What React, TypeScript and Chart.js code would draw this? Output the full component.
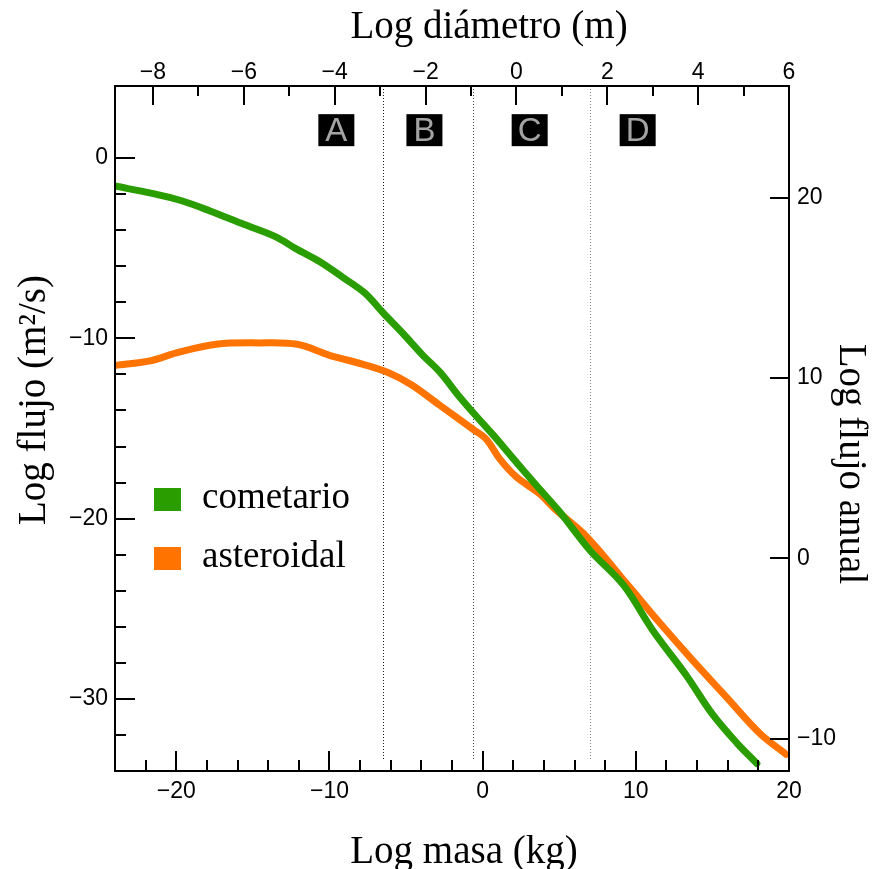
import { useEffect, useRef } from 'react';
import { Chart, registerables } from 'chart.js';

Chart.register(...registerables);

// ---- data (log10 units) ----
const MASA_COMETARIO = [-24, -21.5, -19.6, -17.8, -15.6, -13.5, -12.2, -10.6, -9.1, -7.7, -6.5, -5.2, -3.9, -2.8, -1.5, -0.6, 0.7, 2.0, 3.5, 5.0, 7.0, 9.2, 11.1, 13.3, 15.0, 16.6, 17.9];
const FLUJO_COMETARIO = [-1.55, -1.97, -2.38, -2.93, -3.67, -4.37, -5.02, -5.76, -6.63, -7.48, -8.58, -9.73, -10.94, -11.86, -13.25, -14.14, -15.37, -16.67, -18.15, -19.59, -21.75, -23.69, -26.19, -28.7, -30.85, -32.45, -33.58];

const MASA_ASTEROIDAL = [-24, -21.7, -20.0, -17.4, -14.6, -12.1, -10.0, -7.8, -6.1, -4.6, -2.8, -0.6, 0.25, 1.1, 2.2, 3.7, 4.8, 6.8, 9.4, 11.6, 13.7, 15.9, 18.1, 19.8];
const FLUJO_ASTEROIDAL = [-11.5, -11.25, -10.81, -10.33, -10.25, -10.33, -10.94, -11.44, -11.92, -12.6, -13.71, -15.06, -15.61, -16.67, -17.69, -18.61, -19.53, -21.01, -23.6, -25.82, -27.85, -29.89, -31.92, -33.07];

const SERIES_LABELS = ['cometario', 'asteroidal'];
const SERIES_COLORS = ['#2a9d00', '#ff7400'];

// axes
const MASA_RANGE = [-24, 20];
const FLUJO_RANGE = [-34, 4];
const DIAM_RANGE = [-8.836, 6];
const FLUJO_ANUAL_OFFSET = 22.2; // log(s/yr * m^2 Earth)

const MASA_TICKS = [-20, -10, 0, 10, 20];
const MASA_MINOR = [-22, -18, -16, -14, -12, -8, -6, -4, -2, 2, 4, 6, 8, 12, 14, 16, 18];
const FLUJO_TICKS = [0, -10, -20, -30];
const FLUJO_MINOR = [-2, -4, -6, -8, -12, -14, -16, -18, -22, -24, -26, -28, -32];
const ANUAL_TICKS = [-10, 0, 10, 20];
const DIAM_TICKS = [-8, -6, -4, -2, 0, 2, 4, 6];
const DIAM_MINOR = [-7, -5, -3, -1, 1, 3, 5];

// zones
const ZONE_BOUNDS = [-6.5, -0.6, 7.0];
const ZONE_BOUND_COLORS = ['#222', '#444', '#888'];
const ZONE_BOUND_BOTTOM = -33.4;
const ZONE_LABELS = ['A', 'B', 'C', 'D'];
const ZONE_LABEL_X = [-9.55, -3.8, 3.07, 10.12];
const ZONE_LABEL_Y = 1.55;

const fmt = (v: number) => (v < 0 ? '\u2212' + Math.abs(v) : String(v));
const SANS = 'Liberation Sans, Arial, sans-serif';
const SERIF = 'Liberation Serif, Times New Roman, serif';

const decor = {
  id: 'decor',
  beforeDatasetsDraw(chart: any) {
    const { ctx, chartArea, scales } = chart;
    ctx.save();
    ctx.lineWidth = 1;
    ctx.setLineDash([1, 2]);
    ZONE_BOUNDS.forEach((b, i) => {
      const px = Math.round(scales.x.getPixelForValue(b)) + 0.5;
      ctx.strokeStyle = ZONE_BOUND_COLORS[i];
      ctx.beginPath();
      ctx.moveTo(px, chartArea.top);
      ctx.lineTo(px, scales.y.getPixelForValue(ZONE_BOUND_BOTTOM));
      ctx.stroke();
    });
    ctx.restore();
  },
  afterDraw(chart: any) {
    const { ctx, chartArea: ca, scales } = chart;
    const { x, x2, y, y2 } = scales;
    ctx.save();
    // frame
    ctx.strokeStyle = '#000';
    ctx.lineWidth = 2;
    ctx.strokeRect(ca.left, ca.top, ca.right - ca.left, ca.bottom - ca.top);
    // ticks
    const MAJ = 19, MIN = 10;
    const vt = (px: number, y0: number, y1: number) => { ctx.beginPath(); ctx.moveTo(px, y0); ctx.lineTo(px, y1); ctx.stroke(); };
    const ht = (py: number, x0: number, x1: number) => { ctx.beginPath(); ctx.moveTo(x0, py); ctx.lineTo(x1, py); ctx.stroke(); };
    MASA_TICKS.forEach(v => vt(Math.round(x.getPixelForValue(v)), ca.bottom, ca.bottom - MAJ - 1));
    MASA_MINOR.forEach(v => vt(Math.round(x.getPixelForValue(v)), ca.bottom, ca.bottom - MIN - 1));
    DIAM_TICKS.forEach(v => vt(Math.round(x2.getPixelForValue(v)), ca.top, ca.top + MAJ));
    DIAM_MINOR.forEach(v => vt(Math.round(x2.getPixelForValue(v)), ca.top, ca.top + MIN));
    FLUJO_TICKS.forEach(v => ht(Math.round(y.getPixelForValue(v)), ca.left, ca.left + MAJ + 1));
    FLUJO_MINOR.forEach(v => ht(Math.round(y.getPixelForValue(v)), ca.left, ca.left + MIN + 1));
    ANUAL_TICKS.forEach(v => ht(Math.round(y2.getPixelForValue(v)), ca.right, ca.right - MAJ));

    // zone labels
    ctx.font = `33px ${SANS}`;
    ctx.textAlign = 'center';
    ctx.textBaseline = 'middle';
    ZONE_LABELS.forEach((lab, i) => {
      const cx = x.getPixelForValue(ZONE_LABEL_X[i]);
      const cy = y.getPixelForValue(ZONE_LABEL_Y);
      ctx.fillStyle = '#000';
      ctx.fillRect(cx - 18, cy - 16, 36, 32);
      ctx.fillStyle = '#a4a4a4';
      ctx.fillText(lab, cx, cy + 2);
    });

    // legend
    ctx.font = `37px ${SERIF}`;
    ctx.textAlign = 'left';
    ctx.textBaseline = 'alphabetic';
    chart.data.datasets.forEach((ds: any, i: number) => {
      const top = ca.top + 402 + i * 59;
      ctx.fillStyle = ds.borderColor;
      ctx.fillRect(ca.left + 39, top, 27, 23);
      ctx.fillStyle = '#000';
      ctx.fillText(ds.label, ca.left + 87, top + 20);
    });

    // axis titles
    ctx.font = `39px ${SERIF}`;
    ctx.fillStyle = '#000';
    ctx.textAlign = 'center';
    ctx.textBaseline = 'alphabetic';
    ctx.fillText('Log diámetro (m)', 489, 38);
    ctx.fillText('Log masa (kg)', 464, 863);
    ctx.save();
    ctx.translate(45, 400);
    ctx.rotate(-Math.PI / 2);
    ctx.fillText('Log flujo (m²/s)', 0, 0);
    ctx.restore();
    ctx.save();
    ctx.translate(840, 464);
    ctx.rotate(Math.PI / 2);
    ctx.fillText('Log flujo anual', 0, 0);
    ctx.restore();
    ctx.restore();
  },
};

const tickFont = { family: SANS, size: 23 };

export default function App() {
  const ref = useRef<HTMLCanvasElement>(null);
  useEffect(() => {
    const canvas = ref.current!;
    const mk = (xs: number[], ys: number[]) => xs.map((v, i) => ({ x: v, y: ys[i] }));
    const line = (i: number, xs: number[], ys: number[]) => ({
      label: SERIES_LABELS[i],
      data: mk(xs, ys),
      borderColor: SERIES_COLORS[i],
      backgroundColor: SERIES_COLORS[i],
      borderWidth: 7,
      pointRadius: 0,
      tension: 0.35,
      borderCapStyle: 'round',
      borderJoinStyle: 'round',
      xAxisID: 'x',
      yAxisID: 'y',
    });
    const chart = new Chart(canvas, {
      type: 'line',
      data: {
        datasets: [
          line(0, MASA_COMETARIO, FLUJO_COMETARIO),
          line(1, MASA_ASTEROIDAL, FLUJO_ASTEROIDAL),
        ],
      },
      options: {
        responsive: false,
        animation: false,
        devicePixelRatio: 1,
        events: [],
        layout: { padding: 0 },
        plugins: { legend: { display: false }, tooltip: { enabled: false } },
        scales: {
          x: {
            type: 'linear',
            position: 'bottom',
            min: MASA_RANGE[0],
            max: MASA_RANGE[1],
            afterBuildTicks: (s: any) => { s.ticks = MASA_TICKS.map(v => ({ value: v })); },
            afterFit: (s: any) => { s.height = 98; },
            grid: { display: false, drawTicks: false },
            border: { display: false },
            ticks: { font: tickFont, color: '#000', padding: 7, maxRotation: 0, autoSkip: false, callback: (v: any) => fmt(Number(v)) },
          },
          x2: {
            type: 'linear',
            position: 'top',
            min: DIAM_RANGE[0],
            max: DIAM_RANGE[1],
            afterBuildTicks: (s: any) => { s.ticks = DIAM_TICKS.map(v => ({ value: v })); },
            afterFit: (s: any) => { s.height = 86; },
            grid: { display: false, drawTicks: false },
            border: { display: false },
            ticks: { font: tickFont, color: '#000', padding: 0, maxRotation: 0, autoSkip: false, callback: (v: any) => fmt(Number(v)) },
          },
          y: {
            type: 'linear',
            position: 'left',
            min: FLUJO_RANGE[0],
            max: FLUJO_RANGE[1],
            afterBuildTicks: (s: any) => { s.ticks = FLUJO_TICKS.map(v => ({ value: v })); },
            afterFit: (s: any) => { s.width = 115; },
            grid: { display: false, drawTicks: false },
            border: { display: false },
            ticks: { font: tickFont, color: '#000', padding: 7, autoSkip: false, callback: (v: any) => fmt(Number(v)) },
          },
          y2: {
            type: 'linear',
            position: 'right',
            min: FLUJO_RANGE[0] + FLUJO_ANUAL_OFFSET,
            max: FLUJO_RANGE[1] + FLUJO_ANUAL_OFFSET,
            afterBuildTicks: (s: any) => { s.ticks = ANUAL_TICKS.map(v => ({ value: v })); },
            afterFit: (s: any) => { s.width = 84; },
            grid: { display: false, drawTicks: false },
            border: { display: false },
            ticks: { font: tickFont, color: '#000', padding: 8, autoSkip: false, callback: (v: any) => fmt(Number(v)) },
          },
        },
      } as any,
      plugins: [decor],
    });
    return () => chart.destroy();
  }, []);
  return (
    <div style={{ position: 'absolute', left: 0, top: 0, width: 873, height: 869, background: '#fff' }}>
      <canvas ref={ref} width={873} height={869} style={{ display: 'block' }} />
    </div>
  );
}
